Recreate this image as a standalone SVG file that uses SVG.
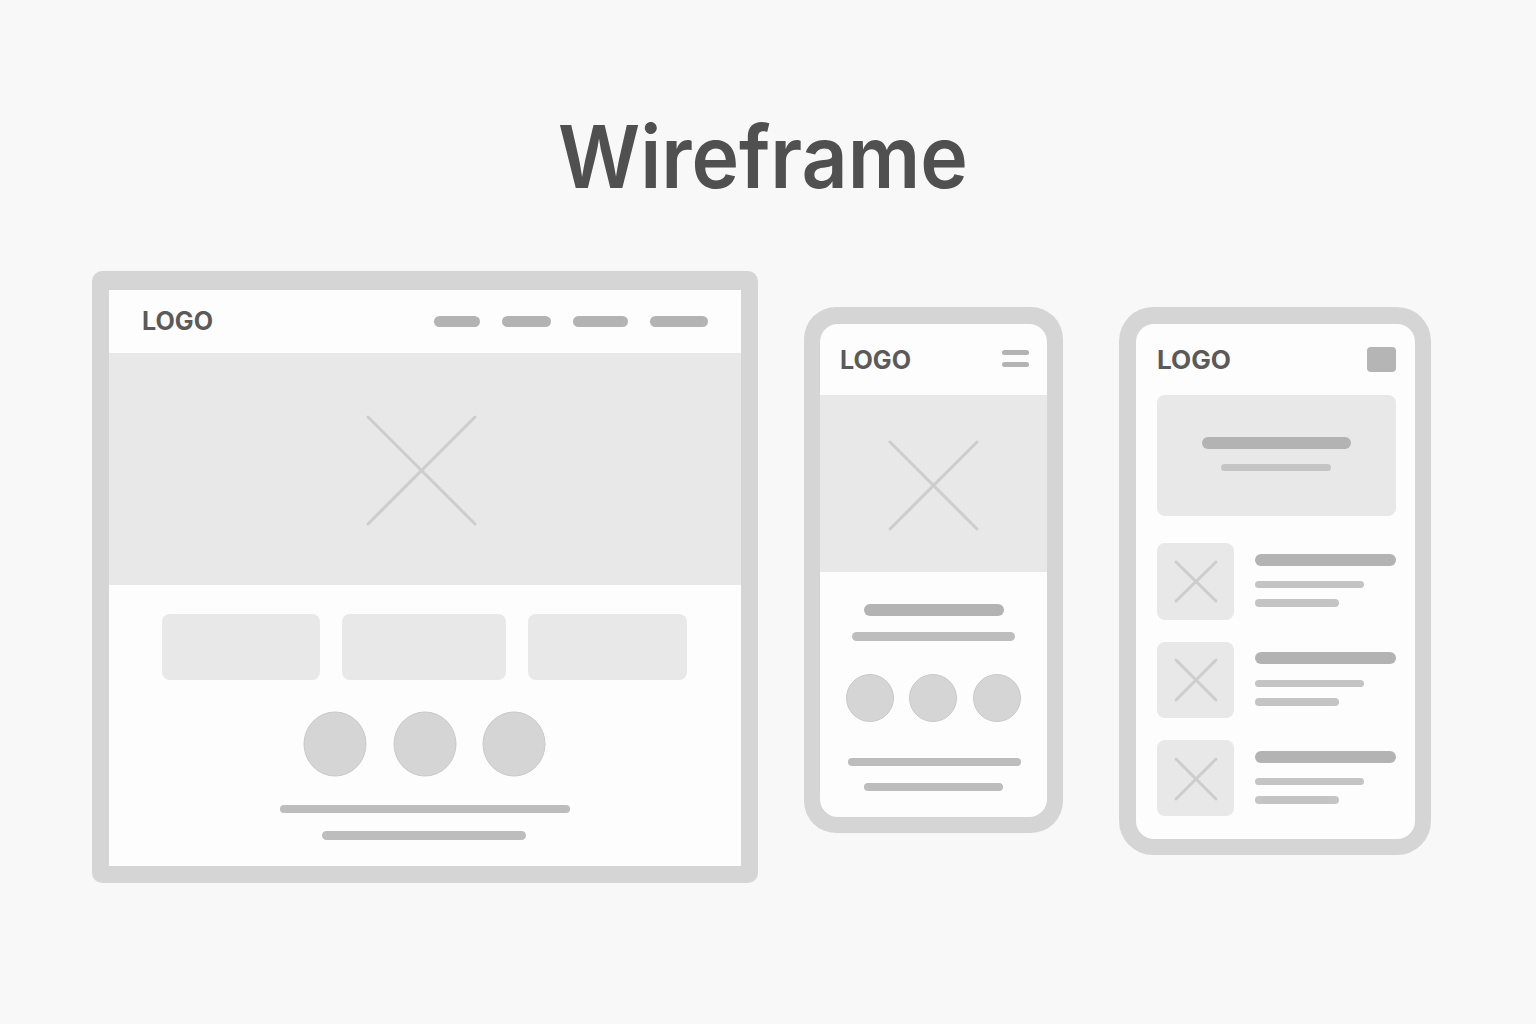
<svg xmlns="http://www.w3.org/2000/svg" width="1536" height="1024" viewBox="0 0 1536 1024">
  <style>
    .frame { fill: #d5d5d5; }
    .screen { fill: #fdfdfd; }
    .logo { font-family: Inter, "Liberation Sans", sans-serif; font-weight: 700; font-size: 25px; fill: #5a5a5a; }
    .title { font-family: Inter, "Liberation Sans", sans-serif; font-weight: 600; font-size: 86px; fill: #505050; }
    .block { fill: #e8e8e8; }
    .bar-dark { fill: #b3b3b3; }
    .bar { fill: #bdbdbd; }
    .bar-light { fill: #c4c4c4; }
    .dot { fill: #d5d5d5; stroke: #c9c9c9; stroke-width: 1; }
    .cross { stroke: #cdcdcd; stroke-width: 3; stroke-linecap: round; fill: none; }
  </style>

  <rect width="1536" height="1024" fill="#f8f8f8"/>

  <text class="title" x="763" y="188" text-anchor="middle" textLength="410" lengthAdjust="spacingAndGlyphs">Wireframe</text>

  <!-- Desktop layout -->
  <g id="desktop">
    <rect class="frame" x="92" y="271" width="666" height="612" rx="10"/>
    <rect class="screen" x="109" y="290" width="632" height="576"/>
    <text class="logo" x="142" y="330" textLength="71" lengthAdjust="spacingAndGlyphs">LOGO</text>
    <rect class="bar-dark" x="434" y="316" width="46" height="11" rx="5.5"/>
    <rect class="bar-dark" x="502" y="316" width="49" height="11" rx="5.5"/>
    <rect class="bar-dark" x="573" y="316" width="55" height="11" rx="5.5"/>
    <rect class="bar-dark" x="650" y="316" width="58" height="11" rx="5.5"/>
    <rect class="block" x="109" y="353" width="632" height="232"/>
    <line class="cross" x1="368" y1="417" x2="475" y2="524"/>
    <line class="cross" x1="475" y1="417" x2="368" y2="524"/>
    <rect class="block" x="162" y="614" width="158" height="66" rx="8"/>
    <rect class="block" x="342" y="614" width="164" height="66" rx="8"/>
    <rect class="block" x="528" y="614" width="159" height="66" rx="8"/>
    <ellipse class="dot" cx="335" cy="744" rx="31" ry="32"/>
    <ellipse class="dot" cx="425" cy="744" rx="31" ry="32"/>
    <ellipse class="dot" cx="514" cy="744" rx="31" ry="32"/>
    <rect class="bar" x="280" y="805" width="290" height="8" rx="4"/>
    <rect class="bar" x="322" y="831" width="204" height="9" rx="4.5"/>
  </g>

  <!-- Phone layout -->
  <g id="phone">
    <rect class="frame" x="804" y="307" width="259" height="526" rx="32"/>
    <rect class="screen" x="820" y="324" width="227" height="493" rx="18"/>
    <text class="logo" x="840" y="369" textLength="71" lengthAdjust="spacingAndGlyphs">LOGO</text>
    <rect class="bar-dark" x="1002" y="350" width="27" height="5" rx="2.5"/>
    <rect class="bar-dark" x="1002" y="362" width="27" height="5" rx="2.5"/>
    <rect class="block" x="820" y="395" width="227" height="177"/>
    <line class="cross" x1="890" y1="442" x2="977" y2="529"/>
    <line class="cross" x1="977" y1="442" x2="890" y2="529"/>
    <rect class="bar-dark" x="864" y="604" width="140" height="12" rx="6"/>
    <rect class="bar" x="852" y="632" width="163" height="9" rx="4.5"/>
    <circle class="dot" cx="870" cy="698" r="23.5"/>
    <circle class="dot" cx="933" cy="698" r="23.5"/>
    <circle class="dot" cx="997" cy="698" r="23.5"/>
    <rect class="bar" x="848" y="758" width="173" height="8" rx="4"/>
    <rect class="bar" x="864" y="783" width="139" height="8" rx="4"/>
  </g>

  <!-- Tablet layout -->
  <g id="tablet">
    <rect class="frame" x="1119" y="307" width="312" height="548" rx="34"/>
    <rect class="screen" x="1136" y="324" width="279" height="515" rx="18"/>
    <text class="logo" x="1157" y="369" textLength="74" lengthAdjust="spacingAndGlyphs">LOGO</text>
    <rect x="1367" y="347" width="29" height="25" rx="4" fill="#b5b5b5"/>
    <rect class="block" x="1157" y="395" width="239" height="121" rx="8"/>
    <rect class="bar-dark" x="1202" y="437" width="149" height="12" rx="6"/>
    <rect class="bar-light" x="1221" y="464" width="110" height="7" rx="3.5"/>

    <g id="tablet-item-1">
      <rect class="block" x="1157" y="543" width="77" height="77" rx="8"/>
      <line class="cross" x1="1176" y1="562" x2="1216" y2="601"/>
      <line class="cross" x1="1216" y1="562" x2="1176" y2="601"/>
      <rect class="bar-dark" x="1255" y="554" width="141" height="12" rx="6"/>
      <rect class="bar-light" x="1255" y="581" width="109" height="7" rx="3.5"/>
      <rect class="bar-light" x="1255" y="599" width="84" height="8" rx="4"/>
    </g>
    <g id="tablet-item-2">
      <rect class="block" x="1157" y="642" width="77" height="76" rx="8"/>
      <line class="cross" x1="1176" y1="660" x2="1216" y2="700"/>
      <line class="cross" x1="1216" y1="660" x2="1176" y2="700"/>
      <rect class="bar-dark" x="1255" y="652" width="141" height="12" rx="6"/>
      <rect class="bar-light" x="1255" y="680" width="109" height="7" rx="3.5"/>
      <rect class="bar-light" x="1255" y="698" width="84" height="8" rx="4"/>
    </g>
    <g id="tablet-item-3">
      <rect class="block" x="1157" y="740" width="77" height="76" rx="8"/>
      <line class="cross" x1="1176" y1="759" x2="1216" y2="799"/>
      <line class="cross" x1="1216" y1="759" x2="1176" y2="799"/>
      <rect class="bar-dark" x="1255" y="751" width="141" height="12" rx="6"/>
      <rect class="bar-light" x="1255" y="778" width="109" height="7" rx="3.5"/>
      <rect class="bar-light" x="1255" y="796" width="84" height="8" rx="4"/>
    </g>
  </g>
</svg>
